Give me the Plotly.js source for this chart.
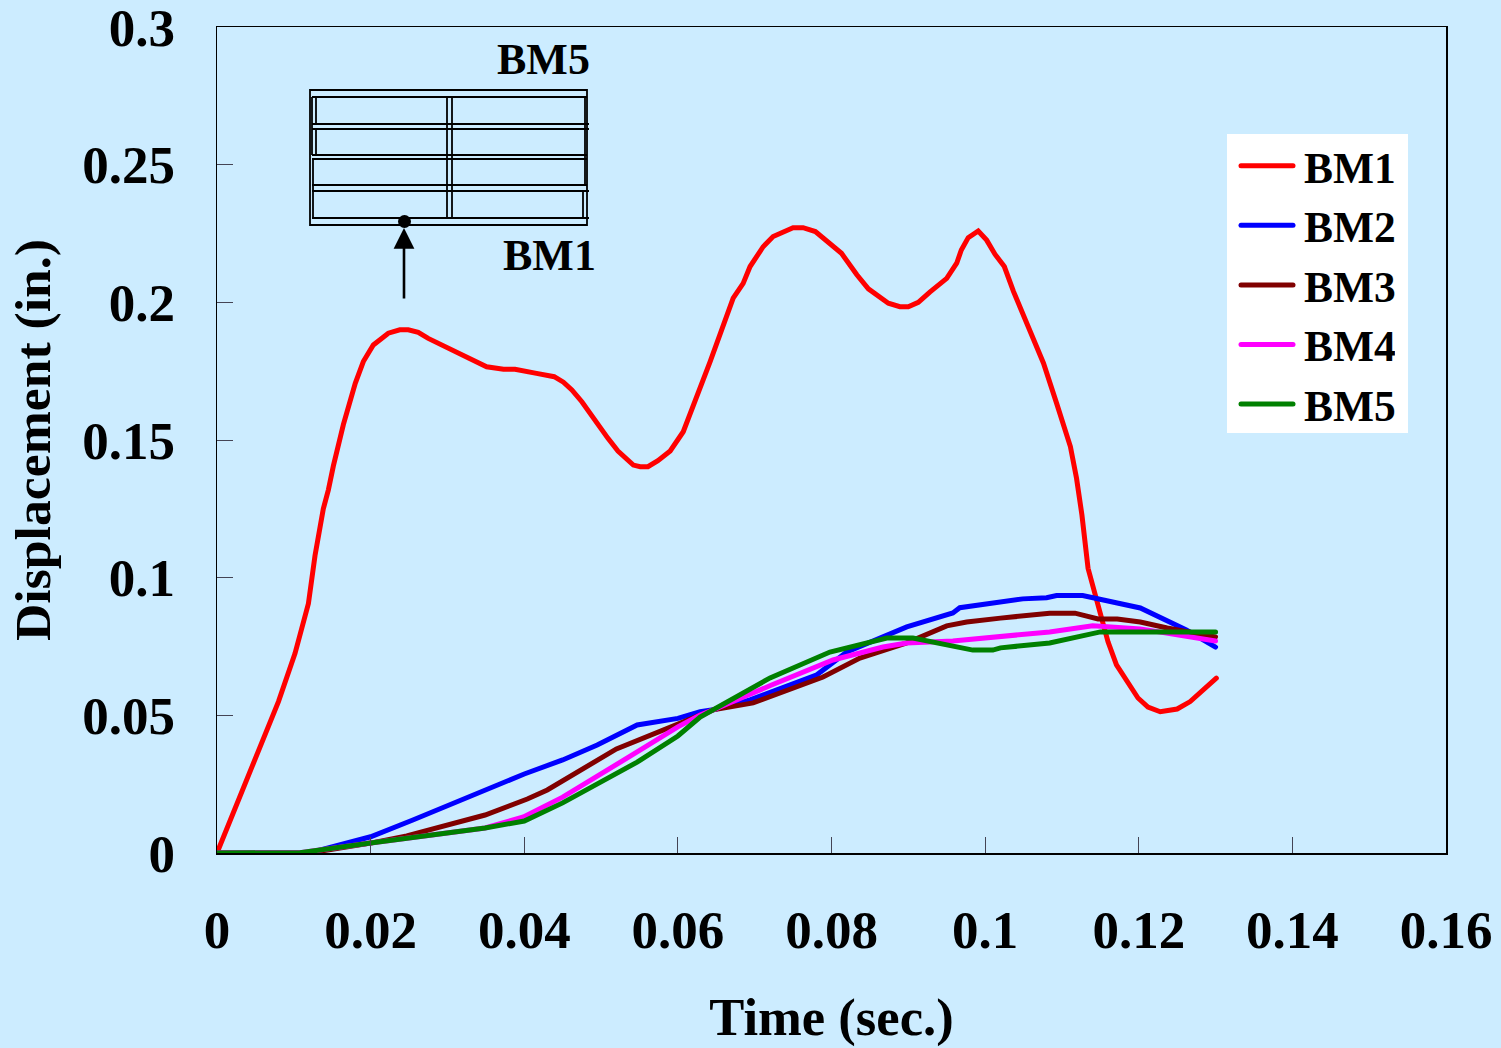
<!DOCTYPE html>
<html>
<head>
<meta charset="utf-8">
<script src="https://cdn.plot.ly/plotly-3.0.1.min.js"></script>
<style>
html,body{margin:0;padding:0;background:#CCECFF;}
#chart{width:1501px;height:1048px;}
.js-line{stroke-linecap:round;}
.legendtext{transform:translateX(6px);}
</style>
</head>
<body>
<div id="chart"></div>
<script>
var xTickVals = [0,0.02,0.04,0.06,0.08,0.1,0.12,0.14,0.16];
var xTickText = ['0','0.02','0.04','0.06','0.08','0.1','0.12','0.14','0.16'];
var yTickVals = [0,0.05,0.1,0.15,0.2,0.25,0.3];
var yTickText = ['0','0.05','0.1','0.15','0.2','0.25','0.3'];

var bm1T = [0,0.004,0.008,0.01016,0.0119,0.01276,0.01384,0.0145,0.01515,0.01645,0.018,0.01905,0.02035,0.0223,0.0238,0.0249,0.0262,0.0275,0.0288,0.0301,0.0321,0.0338,0.0351,0.0373,0.0388,0.0416,0.0439,0.0451,0.0462,0.0475,0.0486,0.0499,0.0509,0.0522,0.0542,0.0551,0.0561,0.0574,0.059,0.0607,0.0625,0.0642,0.0657,0.0672,0.0685,0.0694,0.0711,0.0724,0.075,0.0763,0.0779,0.0798,0.0813,0.0833,0.0848,0.0874,0.0889,0.09,0.0913,0.0928,0.095,0.0963,0.0969,0.0978,0.0991,0.1002,0.1013,0.1025,0.1037,0.1056,0.1076,0.1093,0.1111,0.1119,0.1126,0.1134,0.1145,0.1152,0.116,0.1171,0.1199,0.1212,0.1228,0.125,0.1267,0.1301];
var bm1V = [0,0.0281,0.055,0.0725,0.0906,0.108,0.125,0.1319,0.1406,0.1556,0.1706,0.1785,0.1845,0.1888,0.19,0.19,0.1891,0.1869,0.1851,0.1831,0.1803,0.1779,0.1766,0.1757,0.1757,0.1742,0.173,0.171,0.1682,0.1639,0.1595,0.1551,0.1506,0.146,0.1409,0.1403,0.1403,0.1425,0.146,0.153,0.1657,0.1785,0.19,0.2015,0.2069,0.213,0.2202,0.2239,0.2271,0.2271,0.2257,0.2215,0.2178,0.21,0.2049,0.1997,0.1984,0.1984,0.2,0.2037,0.2087,0.2142,0.219,0.2235,0.2259,0.2226,0.2174,0.213,0.2039,0.1912,0.1779,0.1634,0.1476,0.1361,0.1228,0.1034,0.0925,0.0854,0.0767,0.0683,0.0563,0.053,0.0513,0.0523,0.055,0.0635];

var bm2T = [0,0.012,0.02,0.0255,0.040,0.045,0.0495,0.0547,0.06,0.0629,0.0646,0.0694,0.0781,0.082,0.0898,0.0958,0.0967,0.1011,0.1049,0.108,0.1093,0.1127,0.1202,0.1262,0.130];
var bm2V = [0,0,0.0059,0.012,0.0287,0.0338,0.0392,0.0465,0.0489,0.0513,0.052,0.0556,0.0647,0.073,0.0821,0.0872,0.0891,0.0909,0.0923,0.0927,0.0935,0.0935,0.089,0.081,0.0748];

var bm3T = [0,0.012,0.02,0.0247,0.0349,0.0404,0.043,0.052,0.0629,0.0646,0.0698,0.0789,0.0837,0.0898,0.095,0.0976,0.102,0.1084,0.1117,0.1147,0.1172,0.1202,0.1237,0.130];
var bm3V = [0,0,0.0036,0.0062,0.0138,0.0196,0.0229,0.0378,0.0501,0.052,0.0545,0.0639,0.0708,0.0763,0.0825,0.0839,0.0853,0.0871,0.0871,0.085,0.085,0.0839,0.0817,0.0785];

var bm4T = [0,0.0108,0.02,0.0349,0.0399,0.045,0.0547,0.06,0.0629,0.0646,0.0722,0.0802,0.0867,0.0898,0.0958,0.102,0.1084,0.114,0.1202,0.130];
var bm4V = [0,0.0001,0.0036,0.0091,0.0131,0.0203,0.0367,0.0458,0.0501,0.052,0.061,0.0701,0.0748,0.0763,0.077,0.0788,0.0803,0.0825,0.0814,0.077];

var bm5T = [0,0.0108,0.02,0.0349,0.040,0.045,0.0547,0.06,0.0629,0.0646,0.072,0.0798,0.0872,0.0906,0.0967,0.0984,0.101,0.102,0.1084,0.1115,0.115,0.130];
var bm5V = [0,0.0001,0.0036,0.0091,0.0116,0.0182,0.033,0.0425,0.0494,0.052,0.0636,0.073,0.0781,0.0781,0.0748,0.0737,0.0737,0.0745,0.0763,0.0781,0.0803,0.0803];

var seriesNames = ['BM1','BM2','BM3','BM4','BM5'];
var seriesColors = ['#FF0000','#0000FF','#800000','#FF00FF','#008000'];
var seriesT = [bm1T,bm2T,bm3T,bm4T,bm5T];
var seriesV = [bm1V,bm2V,bm3V,bm4V,bm5V];

var FONT = '"Liberation Serif","Times New Roman",serif';
var W = 1501, H = 1048, L = 217, R = 1446, T = 27, B = 853;
var px = function(x){return (x-L)/(R-L);};
var py = function(y){return (B-y)/(B-T);};

var traces = seriesNames.map(function(n,i){
  return {x:seriesT[i],y:seriesV[i],name:n,mode:'lines',type:'scatter',
          line:{color:seriesColors[i],width:5,shape:'linear'}};
});

function seg(x0,y0,x1,y1,w){
  return {type:'line',xref:'paper',yref:'paper',x0:px(x0),y0:py(y0),x1:px(x1),y1:py(y1),
          line:{color:'#000',width:w||1.8}};
}
var shapes = [
  {type:'rect',layer:'below',xref:'paper',yref:'paper',x0:px(1227),y0:py(134),x1:px(1408),y1:py(433),fillcolor:'#FFFFFF',line:{width:0}},
  {type:'rect',xref:'paper',yref:'paper',x0:px(310),y0:py(90),x1:px(587),y1:py(225),line:{color:'#000',width:1.8},fillcolor:'rgba(0,0,0,0)'}
];
[[97,587],[124,589],[129,589],[155,587],[159,587],[185,587],[191,589],[218,589]].forEach(function(h){
  shapes.push(seg(312,h[0],h[1],h[0],2));
});
[[312,97,155],[316,97,124],[316,129,155],[313,159,218],[447,97,218],[452,97,218],[585,97,185],[583,191,218]].forEach(function(v){
  shapes.push(seg(v[0],v[1],v[0],v[2],1.8));
});
shapes.push({type:'circle',xref:'paper',yref:'paper',x0:px(398),x1:px(411),y0:py(215),y1:py(228),fillcolor:'#000',line:{color:'#000',width:0}});

var layout = {
  width:W,height:H,
  paper_bgcolor:'#CCECFF',plot_bgcolor:'#CCECFF',
  margin:{l:L,r:W-R,t:T,b:H-B,pad:0},
  showlegend:true,
  font:{family:FONT,color:'#000'},
  xaxis:{range:[0,0.16],tickmode:'array',tickvals:xTickVals,ticktext:xTickText,
    ticks:'inside',ticklen:16,tickwidth:1,tickcolor:'#445',showgrid:false,zeroline:false,
    showline:true,linecolor:'#000',linewidth:1.5,mirror:true,ticklabeloverflow:'allow',
    tickfont:{family:FONT,size:53,color:'#000',weight:'bold'},ticklabelstandoff:30,
    title:{text:'<b>Time (sec.)</b>',font:{family:FONT,size:52.6,color:'#000'},standoff:40},automargin:false},
  yaxis:{range:[0,0.3],tickmode:'array',tickvals:yTickVals,ticktext:yTickText,
    ticks:'inside',ticklen:16,tickwidth:1,tickcolor:'#445',showgrid:false,zeroline:false,
    showline:true,linecolor:'#000',linewidth:1.5,mirror:true,ticklabeloverflow:'allow',
    tickfont:{family:FONT,size:53,color:'#000',weight:'bold'},ticklabelstandoff:30,
    title:{text:'<b>Displacement (in.)</b>',font:{family:FONT,size:51.7,color:'#000'},standoff:15},automargin:false},
  legend:{x:px(1236),xanchor:'left',y:py(131),yanchor:'top',bgcolor:'rgba(0,0,0,0)',borderwidth:0,
    font:{family:FONT,size:43.5,color:'#000',weight:'bold'},itemwidth:52,tracegroupgap:0},
  shapes:shapes,
  annotations:[
    {xref:'paper',yref:'paper',x:px(543),y:py(60),text:'<b>BM5</b>',showarrow:false,xanchor:'center',yanchor:'middle',font:{family:FONT,size:44,color:'#000'}},
    {xref:'paper',yref:'paper',x:px(549),y:py(255),text:'<b>BM1</b>',showarrow:false,xanchor:'center',yanchor:'middle',font:{family:FONT,size:44,color:'#000'}},
    {xref:'paper',yref:'paper',axref:'pixel',ayref:'pixel',x:px(404),y:py(228),ax:0,ay:72,text:'',showarrow:true,arrowhead:2,arrowsize:1.6,arrowwidth:2.6,arrowcolor:'#000'}
  ]
};
Plotly.newPlot('chart',traces,layout,{displayModeBar:false,staticPlot:true});
</script>
</body>
</html>
